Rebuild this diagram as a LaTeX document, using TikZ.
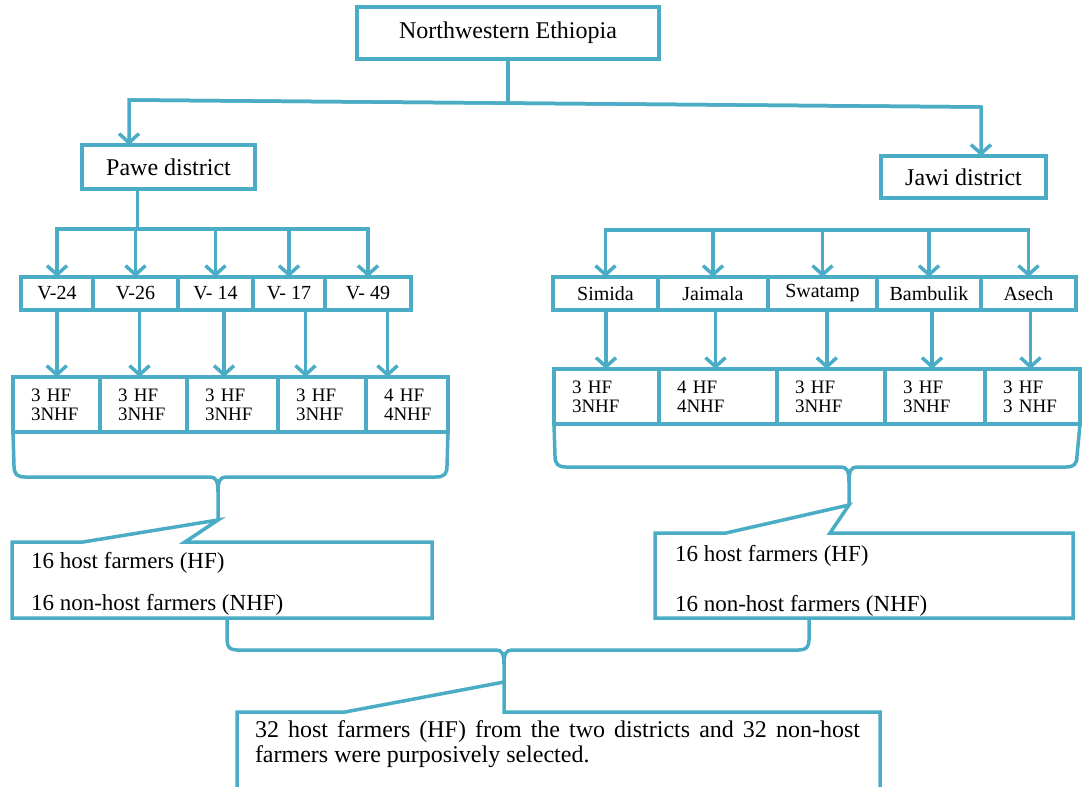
\documentclass[tikz,border=0pt]{standalone}
\usepackage{fontspec}
\setmainfont{Liberation Serif}
\usetikzlibrary{arrows.meta,positioning,calc}
\definecolor{lineblue}{RGB}{75,172,198}
\tikzset{
  every node/.style={inner sep=0pt, outer sep=0pt},
  blueline/.style={draw=lineblue, line width=3.5pt},
  arr/.style={blueline, -{Straight Barb[length=9pt,width=20pt]}},
  box/.style={blueline, font=\fontsize{24}{28}\selectfont},
  vcell/.style={blueline, minimum height=33pt, minimum width=#1, font=\fontsize{20}{24}\selectfont},
  hfcell/.style={blueline, minimum height=55pt, inner xsep=18pt, text width=#1, align=left, font=\fontsize{19}{19}\selectfont},
  sumtext/.style={anchor=north west, align=left, font=\fontsize{23}{27}\selectfont}
}

\begin{document}
\begin{tikzpicture}[x=1pt,y=-1pt]
\useasboundingbox (0,0) rectangle (1085,787);

\node[box, minimum width=302pt, minimum height=52pt] (top) at (508,33) {Northwestern Ethiopia};
\node[box, minimum width=173pt, minimum height=44pt] (pawe) at (168.5,167) {Pawe district};
\node[box, minimum width=165pt, minimum height=42pt] (jawi) at (963.5,177) {Jawi district};

\coordinate (tL) at (129,100);
\coordinate (tR) at (981,107);
\draw[blueline] (top.south) -- ++(0,44);
\draw[arr] (tR) -- (tL) -- (tL |- pawe.north);
\draw[arr] (tL) -- (tR) -- (tR |- jawi.north);

% villages
\node[vcell=72pt] (v24) at (57,293.5) {V-24};
\node[vcell=85pt, right=0pt of v24] (v26) {V-26};
\node[vcell=75pt, right=0pt of v26] (v14) {V- 14};
\node[vcell=72pt, right=0pt of v14] (v17) {V- 17};
\node[vcell=86pt, right=0pt of v17] (v49) {V- 49};

\node[vcell=105pt] (sim) at (605.5,293.5) {Simida};
\node[vcell=110pt, right=0pt of sim] (jai) {Jaimala};
\node[vcell=109pt, right=0pt of jai] (swa) {Swatamp};
\node[vcell=104pt, right=0pt of swa] (bam) {Bambulik};
\node[vcell=95pt, right=0pt of bam] (ase) {Asech};

\coordinate (pbar) at (0,229);
\coordinate (jbar) at (0,230);
\draw[blueline] ($(pawe.south west)!.32!(pawe.south east)$) -- ++(0,40);
\draw[arr] (v49.north |- pbar) -- (v24.north |- pbar) -- (v24.north);
\draw[arr] (v24.north |- pbar) -- (v49.north |- pbar) -- (v49.north);
\foreach \v in {v26,v14,v17}
  \draw[arr] (\v.north |- pbar) -- (\v.north);
\draw[arr] (ase.north |- jbar) -- (sim.north |- jbar) -- (sim.north);
\draw[arr] (sim.north |- jbar) -- (ase.north |- jbar) -- (ase.north);
\foreach \v in {jai,swa,bam}
  \draw[arr] (\v.north |- jbar) -- (\v.north);

% farmers per village
\node[hfcell=51pt] (h1) at (56.5,404.5) {3 HF\\3NHF};
\node[hfcell=51pt, right=0pt of h1] (h2) {3 HF\\3NHF};
\node[hfcell=55pt, right=0pt of h2] (h3) {3 HF\\3NHF};
\node[hfcell=52pt, right=0pt of h3] (h4) {3 HF\\3NHF};
\node[hfcell=46pt, right=0pt of h4] (h5) {4 HF\\4NHF};

\node[hfcell=69pt] (j1) at (606.5,396.5) {3 HF\\3NHF};
\node[hfcell=82pt, right=0pt of j1] (j2) {4 HF\\4NHF};
\node[hfcell=72pt, right=0pt of j2] (j3) {3 HF\\3NHF};
\node[hfcell=64pt, right=0pt of j3] (j4) {3 HF\\3NHF};
\node[hfcell=59pt, right=0pt of j4] (j5) {3 HF\\3 NHF};

\foreach \a/\b in {v24/h1,v26/h2,v14/h3,v17/h4,v49/h5,sim/j1,jai/j2,swa/j3,bam/j4,ase/j5}{
  \path ($(\a.south)!.5!(\b.north)$) coordinate (m);
  \draw[arr] (m |- \a.south) -- (m |- \b.north);
}

% braces
\coordinate (tipL) at (218,520);
\coordinate (tipR) at (849,505);
\coordinate (tipB) at (504,682);
\draw[blueline] (h1.south west) -- (14,466) .. controls (14,474) and (17,477) .. (25,477) -- (210,477) .. controls (216,477) and (218,481) .. (218,492) -- (tipL);
\draw[blueline] (h5.south east) -- (447,466) .. controls (447,474) and (444,477) .. (436,477) -- (226,477) .. controls (220,477) and (218,481) .. (218,492);
\draw[blueline] (j1.south west) -- (555,456) .. controls (555,464) and (558,467) .. (566,467) -- (841,467) .. controls (847,467) and (849,471) .. (849,482) -- (tipR);
\draw[blueline] (j5.south east) -- (1077,456) .. controls (1077,464) and (1074,467) .. (1066,467) -- (857,467) .. controls (851,467) and (849,471) .. (849,482);

% district totals
\coordinate (pA) at (12,542);
\coordinate (pB) at (432,618);
\coordinate (jA) at (655,533);
\coordinate (jB) at (1073,618);
\node[sumtext] (sumP) at (31,552) {16 host farmers (HF)\\[15pt]16 non-host farmers (NHF)};
\node[sumtext] (sumJ) at (675,545) {16 host farmers (HF)\\[23pt]16 non-host farmers (NHF)};
\draw[blueline] (pA |- pB) -- (pA) -- (83,542) -- (tipL) -- (185,542) -- (pB |- pA) -- (pB) -- cycle;
\draw[blueline] (jA |- jB) -- (jA) -- (726,533) -- (tipR) -- (830,533) -- (jB |- jA) -- (jB) -- cycle;

\draw[blueline] (227,618) -- (227,640) .. controls (227,647) and (230,650) .. (237,650) -- (496,650) .. controls (502,650) and (504,654) .. (504,664) -- (tipB);
\draw[blueline] (809,618) -- (809,640) .. controls (809,647) and (806,650) .. (799,650) -- (512,650) .. controls (506,650) and (504,654) .. (504,664);

% overall total
\node[anchor=north west, text width=605pt, align=justify, font=\fontsize{24}{25}\selectfont] (final) at (255,721)
  {32 host farmers (HF) from the two districts and 32 non-host\linebreak farmers were purposively selected.};
\draw[blueline] (237,800) -- (237,712) -- (345,712) -- (tipB) -- (504,712) -- (880,712) -- (880,800);
\end{tikzpicture}
\end{document}
